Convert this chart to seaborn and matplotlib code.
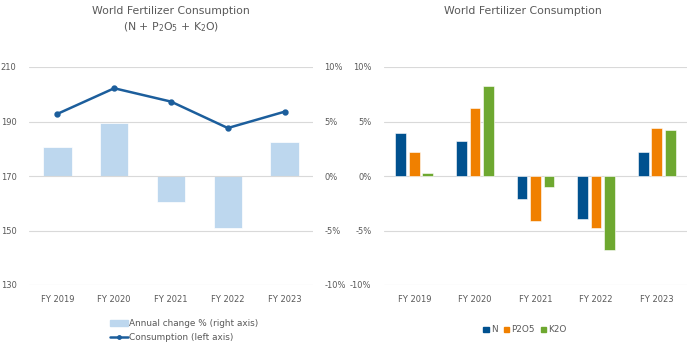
import matplotlib
matplotlib.use("Agg")
import matplotlib.pyplot as plt
import matplotlib.lines as mlines
import matplotlib.patches as mpatches
import numpy as np
import pandas as pd
import seaborn as sns

# ---- data -------------------------------------------------------------
years = ["FY 2019", "FY 2020", "FY 2021", "FY 2022", "FY 2023"]
consumption = [192.8, 202.2, 197.3, 187.6, 193.6]      # Mt nutrients (left axis)
annual_change = [2.7, 4.9, -2.4, -4.8, 3.1]            # % (right axis)

nutrients = ["N", "P2O5", "K2O"]
change_n = [3.9, 3.2, -2.1, -3.9, 2.2]
change_p2o5 = [2.2, 6.2, -4.1, -4.8, 4.4]
change_k2o = [0.3, 8.3, -1.0, -6.8, 4.2]

left_ticks = [130, 150, 170, 190, 210]
pct_ticks = [-10, -5, 0, 5, 10]
pct_labels = ["-10%", "-5%", "0%", "5%", "10%"]

# ---- style ------------------------------------------------------------
sns.set_theme(style="white")
plt.rcParams["font.family"] = ["DejaVu Sans"]
TEXT = "#595959"
GRID = "#D9D9D9"
LIGHT_BLUE = "#BDD7EE"
DARK_BLUE = "#1C5E9C"
palette = {"N": "#00518F", "P2O5": "#F08000", "K2O": "#6EA830"}

W, H = 690, 344
fig = plt.figure(figsize=(W / 100, H / 100), dpi=100)


def px_axes(x0, y0, x1, y1):
    return fig.add_axes([x0 / W, 1 - y1 / H, (x1 - x0) / W, (y1 - y0) / H])


def clean(ax):
    for s in ax.spines.values():
        s.set_visible(False)
    ax.tick_params(length=0, colors=TEXT, labelsize=6)


# ---- left: total consumption + annual change ---------------------------
axL = px_axes(29, 67, 313, 285)
axR = axL.twinx()

df_total = pd.DataFrame({"year": years, "change": annual_change,
                         "consumption": consumption})

sns.barplot(data=df_total, x="year", y="change", ax=axR, color=LIGHT_BLUE,
            width=0.5, saturation=1, edgecolor="white", linewidth=0.5)
sns.pointplot(data=df_total, x="year", y="consumption", ax=axL,
              color=DARK_BLUE, markers="o", markersize=3.2, linewidth=1.8)

axL.set_zorder(axR.get_zorder() + 1)
axL.patch.set_visible(False)

axL.set_ylim(130, 210)
axL.set_yticks(left_ticks)
axR.set_ylim(-10, 10)
axR.set_yticks(pct_ticks)
axR.set_yticklabels(pct_labels)
axL.set_xlim(-0.5, 4.5)
axR.set_xlim(-0.5, 4.5)
for ax in (axL, axR):
    ax.set_xlabel("")
    ax.set_ylabel("")
    clean(ax)
axL.yaxis.grid(True, color=GRID, linewidth=0.8)
axL.set_axisbelow(True)
axR.grid(False)
axL.tick_params(axis="y", pad=9)
axR.tick_params(axis="y", pad=8)
axL.tick_params(axis="x", pad=7)
axR.tick_params(axis="x", labelbottom=False)

leg_handles = [
    mpatches.Patch(color=LIGHT_BLUE, label="Annual change % (right axis)"),
    mlines.Line2D([], [], color=DARK_BLUE, linewidth=1.8, marker="o",
                  markersize=2.5, label="Consumption (left axis)"),
]
fig.legend(handles=leg_handles, loc="upper left",
           bbox_to_anchor=(106 / W, 1 - 315 / H), frameon=False,
           fontsize=6.4, labelcolor=TEXT, handlelength=2.0, handleheight=0.6,
           handletextpad=0.1, labelspacing=0.55, borderpad=0)

fig.text(171 / W, 1 - 11 / H, "World Fertilizer Consumption", ha="center",
         va="center", color=TEXT, fontsize=7.8)
fig.text(171 / W, 1 - 27 / H, r"(N + P$_2$O$_5$ + K$_2$O)", ha="center",
         va="center", color=TEXT, fontsize=7.8)

# ---- right: change by nutrient ------------------------------------------
ax2 = px_axes(384, 67, 687, 285)
df_nut = pd.DataFrame({
    "year": years * 3,
    "nutrient": [n for n in nutrients for _ in years],
    "change": change_n + change_p2o5 + change_k2o,
})
sns.barplot(data=df_nut, x="year", y="change", hue="nutrient",
            hue_order=nutrients, palette=palette, ax=ax2, width=0.667,
            gap=0.2, saturation=1, edgecolor="white", linewidth=0.4)
ax2.set_ylim(-10, 10)
ax2.set_yticks(pct_ticks)
ax2.set_yticklabels(pct_labels)
ax2.set_xlim(-0.5, 4.5)
ax2.set_xlabel("")
ax2.set_ylabel("")
clean(ax2)
ax2.yaxis.grid(True, color=GRID, linewidth=0.8)
ax2.set_axisbelow(True)
ax2.tick_params(axis="y", pad=9)
ax2.tick_params(axis="x", pad=7)
ax2.legend_.remove()

nut_handles = [mpatches.Patch(color=palette[n], label=n) for n in nutrients]
fig.legend(handles=nut_handles, loc="center", ncol=3,
           bbox_to_anchor=(525 / W, 1 - 330 / H), frameon=False,
           fontsize=6.4, labelcolor=TEXT, handlelength=0.6, handleheight=0.6,
           handletextpad=0.25, columnspacing=0.7, borderpad=0)

fig.text(523 / W, 1 - 11 / H, "World Fertilizer Consumption", ha="center",
         va="center", color=TEXT, fontsize=7.8)

fig.savefig("out.png", dpi=100)
